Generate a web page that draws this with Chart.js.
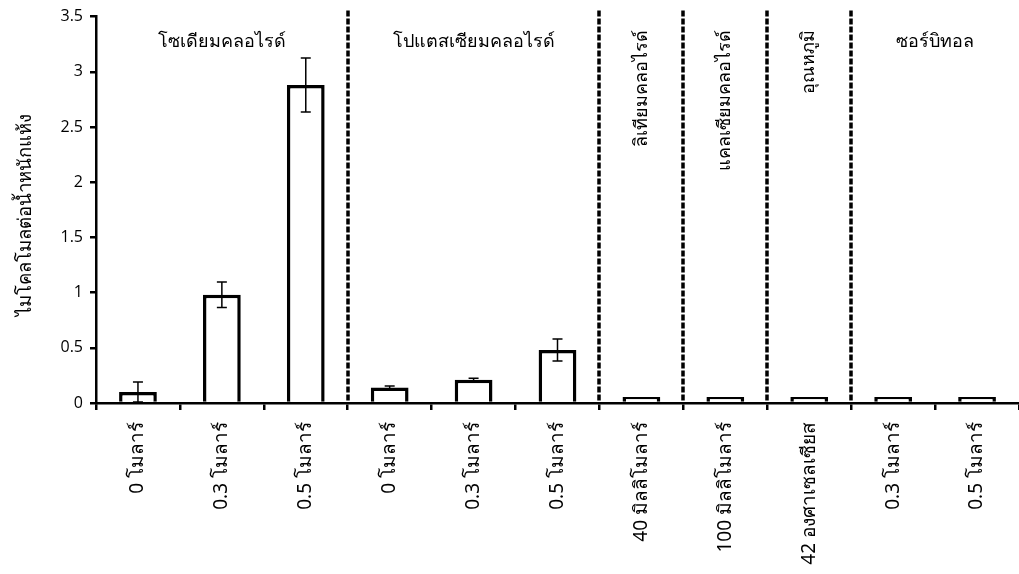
<!DOCTYPE html>
<html>
<head>
<meta charset="utf-8">
<script src="https://cdn.jsdelivr.net/npm/chart.js@4"></script>
<style>
html,body{margin:0;padding:0;background:#fff;}
#wrap{width:1019px;height:574px;position:relative;}
</style>
</head>
<body>
<div id="wrap"><canvas id="c" width="1019" height="574"></canvas></div>
<script>
const categories = ['0 โมลาร์','0.3 โมลาร์','0.5 โมลาร์','0 โมลาร์','0.3 โมลาร์','0.5 โมลาร์','40 มิลลิโมลาร์','100 มิลลิโมลาร์','42 องศาเซลเซียส','0.3 โมลาร์','0.5 โมลาร์'];
const values = [0.10, 0.98, 2.88, 0.14, 0.21, 0.48, 0.055, 0.055, 0.055, 0.055, 0.055];
const errors = [0.09, 0.115, 0.245, 0.015, 0.015, 0.10, 0, 0, 0, 0, 0];
const groupNames = ['โซเดียมคลอไรด์','โปแตสเซียมคลอไรด์','ลิเทียมคลอไรด์','แคลเซียมคลอไรด์','อุณหภูมิ','ซอร์บิทอล'];
const groupStart = [0, 3, 6, 7, 8, 9];
const groupEnd = [2, 5, 6, 7, 8, 10];
const groupVertical = [false, false, true, true, true, false];
const yTicks = [0, 0.5, 1, 1.5, 2, 2.5, 3, 3.5];
const yTitle = 'ไมโคลโมลต่อน้ำหนักแห้ง';

const FONT = "Tahoma, 'Noto Sans', 'DejaVu Sans', sans-serif";

const overlay = {
  id: 'overlay',
  afterDatasetsDraw(chart) {
    const ctx = chart.ctx;
    const x = chart.scales.x, y = chart.scales.y;
    const half = (x.getPixelForValue(1) - x.getPixelForValue(0)) / 2;
    // error bars
    ctx.save();
    ctx.strokeStyle = '#000';
    ctx.lineWidth = 1.5;
    values.forEach((v, i) => {
      const e = errors[i];
      if (!e) return;
      const px = x.getPixelForValue(i);
      const t = y.getPixelForValue(v + e), b = y.getPixelForValue(Math.max(0, v - e));
      ctx.beginPath();
      ctx.moveTo(px, t); ctx.lineTo(px, b);
      ctx.moveTo(px - 5, t); ctx.lineTo(px + 5, t);
      ctx.moveTo(px - 5, b); ctx.lineTo(px + 5, b);
      ctx.stroke();
    });
    ctx.restore();
    // dashed separators
    ctx.save();
    ctx.strokeStyle = '#000';
    ctx.lineWidth = 3.5;
    ctx.setLineDash([6, 2]);
    for (let g = 1; g < groupStart.length; g++) {
      const px = Math.round(x.getPixelForValue(groupStart[g]) - half);
      ctx.beginPath();
      ctx.moveTo(px, chart.chartArea.top - 6);
      ctx.lineTo(px, y.getPixelForValue(0));
      ctx.stroke();
    }
    ctx.restore();
    // group labels
    ctx.save();
    ctx.fillStyle = '#000';
    ctx.font = "18px " + FONT;
    groupNames.forEach((name, g) => {
      const cx = (x.getPixelForValue(groupStart[g]) + x.getPixelForValue(groupEnd[g])) / 2;
      if (groupVertical[g]) {
        ctx.save();
        ctx.translate(cx, 30);
        ctx.rotate(-Math.PI / 2);
        ctx.textAlign = 'right';
        ctx.textBaseline = 'middle';
        ctx.fillText(name, 0, 0);
        ctx.restore();
      } else {
        ctx.textAlign = 'center';
        ctx.textBaseline = 'middle';
        ctx.fillText(name, cx, 42);
      }
    });
    ctx.restore();
    // y axis title
    ctx.save();
    ctx.fillStyle = '#000';
    ctx.font = "19px " + FONT;
    const w = ctx.measureText(yTitle).width;
    const size = Math.min(21, 19 * 208 / w);
    ctx.font = size.toFixed(1) + "px " + FONT;
    ctx.translate(26, 215);
    ctx.rotate(-Math.PI / 2);
    ctx.textAlign = 'center';
    ctx.textBaseline = 'middle';
    ctx.fillText(yTitle, 0, 0);
    ctx.restore();
  }
};

new Chart(document.getElementById('c'), {
  type: 'bar',
  data: {
    labels: categories,
    datasets: [{
      data: values,
      backgroundColor: '#fff',
      borderColor: '#000',
      borderWidth: 3.5,
      borderSkipped: 'start',
      barPercentage: 0.45,
      categoryPercentage: 1
    }]
  },
  options: {
    responsive: false,
    animation: false,
    events: [],
    layout: { padding: { left: 0, right: 0, top: 16, bottom: 0 } },
    plugins: { legend: { display: false }, tooltip: { enabled: false } },
    scales: {
      x: {
        offset: true,
        border: { display: true, color: '#000', width: 2.5 },
        grid: { display: true, drawOnChartArea: false, drawTicks: true, tickLength: 7, color: '#000', lineWidth: 2.5, offset: true },
        ticks: { color: '#000', font: { family: FONT, size: 19 }, minRotation: 90, maxRotation: 90, padding: 12, autoSkip: false },
        afterFit(s) { s.height = 171; }
      },
      y: {
        min: 0, max: 3.5,
        afterBuildTicks(s) { s.ticks = yTicks.map(v => ({ value: v })); },
        border: { display: true, color: '#000', width: 2.5 },
        grid: { display: true, drawOnChartArea: false, drawTicks: true, tickLength: 6, color: '#000', lineWidth: 2.5 },
        ticks: { color: '#000', font: { family: "'Open Sans', sans-serif", size: 16 }, padding: 7, callback: (v) => String(v) },
        afterFit(s) { s.width = 96; }
      }
    }
  },
  plugins: [overlay]
});
</script>
</body>
</html>
